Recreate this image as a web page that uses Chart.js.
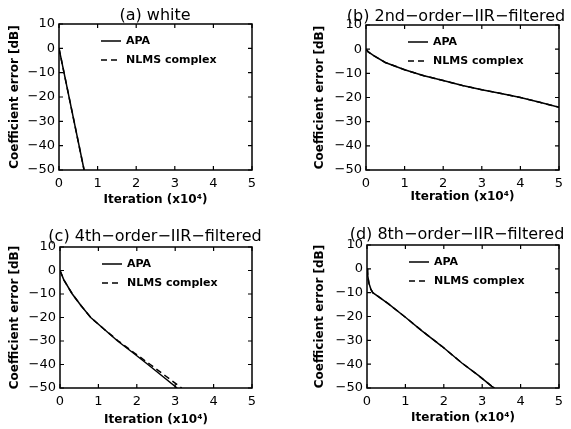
<!DOCTYPE html>
<html>
<head>
<meta charset="utf-8">
<script src="https://cdn.jsdelivr.net/npm/chart.js@4.4.0/dist/chart.umd.min.js"></script>
<style>
body { margin: 0; background: #fff; }
#wrap { position: relative; width: 571px; height: 429px; background: #fff; }
.panel { position: absolute; }
canvas { display: block; }
</style>
</head>
<body>
<div id="wrap">
  <div class="panel" style="left:0px;top:0px"><canvas id="pa" width="285" height="214"></canvas></div>
  <div class="panel" style="left:285px;top:0px"><canvas id="pb" width="286" height="214"></canvas></div>
  <div class="panel" style="left:0px;top:214px"><canvas id="pc" width="285" height="215"></canvas></div>
  <div class="panel" style="left:285px;top:214px"><canvas id="pd" width="286" height="215"></canvas></div>
</div>
<script>
// tick labels
var xTicks = [0, 1, 2, 3, 4, 5];
var yTicks = [10, 0, -10, -20, -30, -40, -50];

// (a) white
var iterA = [0, 0.65];
var apaA = [0, -50];
var nlmsIterA = [0, 0.65];
var nlmsA = [0, -50];

// (b) 2nd-order IIR
var iterB = [0, 0.05, 0.2, 0.5, 1, 1.5, 2, 2.5, 3, 3.5, 4, 4.5, 5];
var apaB = [0, -1, -2.7, -5.5, -8.5, -11, -13, -15, -16.8, -18.3, -20, -22, -24];
var nlmsIterB = [0, 0.05, 0.2, 0.5, 1, 1.5, 2, 2.5, 3, 3.5, 4, 4.5, 5];
var nlmsB = [0, -1, -2.7, -5.5, -8.5, -11, -13, -15, -16.8, -18.3, -20, -22, -24];

// (c) 4th-order IIR
var iterC = [0, 0.1, 0.32, 0.55, 0.8, 1.15, 1.5, 1.9, 2.29, 2.67, 3.05];
var apaC = [0, -4, -10, -15, -20, -25, -30, -35, -40, -45, -50];
var nlmsIterC = [0, 0.1, 0.32, 0.55, 0.8, 1.15, 1.52, 1.93, 2.35, 2.76, 3.17];
var nlmsC = [0, -4, -10, -15, -20, -25, -30, -35, -40, -45, -50];

// (d) 8th-order IIR
var iterD = [0, 0.02, 0.05, 0.1, 0.15, 0.26, 0.56, 1.0, 1.43, 1.95, 2.47, 2.9, 3.1, 3.25, 3.32];
var apaD = [0, -3, -6, -8.5, -10, -11.2, -14.7, -20.3, -26, -32.5, -39.5, -44.7, -47.3, -49.3, -50];
var nlmsIterD = [0, 0.02, 0.05, 0.1, 0.15, 0.26, 0.56, 1.0, 1.43, 1.95, 2.47, 2.9, 3.1, 3.25, 3.32];
var nlmsD = [0, -3, -6, -8.5, -10, -11.2, -14.7, -20.3, -26, -32.5, -39.5, -44.7, -47.3, -49.3, -50];

var FONT = "'DejaVu Sans', sans-serif";

function pts(xs, ys) {
    return xs.map(function (x, i) { return { x: x, y: ys[i] }; });
}

function fmt(v) {
    return String(v).replace('-', '\u2212');
}

var framePlugin = {
    id: 'frame',
    afterDraw: function (chart) {
        var a = chart.chartArea, ctx = chart.ctx;
        var xs = chart.scales.x, ys = chart.scales.y;
        ctx.save();
        ctx.strokeStyle = '#000';
        ctx.lineWidth = 1.5;
        ctx.strokeRect(a.left, a.top, a.right - a.left, a.bottom - a.top);
        ctx.lineWidth = 1.2;
        ctx.beginPath();
        xs.ticks.forEach(function (t) {
            var px = xs.getPixelForValue(t.value);
            ctx.moveTo(px, a.bottom); ctx.lineTo(px, a.bottom - 4);
            ctx.moveTo(px, a.top); ctx.lineTo(px, a.top + 4);
        });
        ys.ticks.forEach(function (t) {
            var py = ys.getPixelForValue(t.value);
            ctx.moveTo(a.left, py); ctx.lineTo(a.left + 4, py);
            ctx.moveTo(a.right, py); ctx.lineTo(a.right - 4, py);
        });
        ctx.stroke();
        ctx.restore();
    }
};

var legendPlugin = {
    id: 'inlegend',
    afterDraw: function (chart) {
        var a = chart.chartArea, ctx = chart.ctx;
        ctx.save();
        ctx.strokeStyle = '#000';
        ctx.fillStyle = '#000';
        ctx.lineWidth = 1.5;
        ctx.font = 'bold 11px ' + FONT;
        ctx.textBaseline = 'middle';
        chart.data.datasets.forEach(function (ds, i) {
            var y = a.top + 17 + i * 19;
            ctx.setLineDash(ds.borderDash || []);
            ctx.beginPath();
            ctx.moveTo(a.left + 42, y);
            ctx.lineTo(a.left + 62, y);
            ctx.stroke();
            ctx.setLineDash([]);
            ctx.fillText(ds.label, a.left + 67, y);
        });
        ctx.restore();
    }
};

// panel title, allowed to run wider than the plot box
var titlePlugin = {
    id: 'ptitle',
    afterDraw: function (chart, args, opts) {
        var ctx = chart.ctx;
        ctx.save();
        ctx.fillStyle = '#000';
        ctx.font = '16px ' + FONT;
        ctx.textAlign = 'center';
        ctx.textBaseline = 'middle';
        ctx.fillText(opts.text, opts.x, opts.y);
        ctx.restore();
    }
};

function makePanel(id, title, xs1, ys1, xs2, ys2, lay) {
    return new Chart(document.getElementById(id), {
        type: 'line',
        data: {
            datasets: [
                { label: 'APA', data: pts(xs1, ys1), borderColor: '#000', borderWidth: 1.5,
                  pointRadius: 0, tension: 0, fill: false },
                { label: 'NLMS complex', data: pts(xs2, ys2), borderColor: '#000', borderWidth: 1.5,
                  borderDash: [6, 4], pointRadius: 0, tension: 0, fill: false }
            ]
        },
        options: {
            responsive: false,
            animation: false,
            devicePixelRatio: 1,
            layout: { padding: { left: 0, right: lay.W - lay.right, top: lay.top, bottom: 0 } },
            plugins: {
                legend: { display: false },
                tooltip: { enabled: false },
                title: { display: false },
                ptitle: { text: title, x: lay.titleX, y: lay.titleC }
            },
            scales: {
                x: {
                    type: 'linear', min: 0, max: 5,
                    afterBuildTicks: function (s) { s.ticks = xTicks.map(function (v) { return { value: v }; }); },
                    afterFit: function (s) { s.height = lay.H - lay.bottom; },
                    grid: { display: false, drawTicks: false }, border: { display: false },
                    ticks: { color: '#000', font: { family: FONT, size: 13 }, padding: 6,
                             maxRotation: 0, autoSkip: false, callback: fmt },
                    title: { display: true, text: 'Iteration (x10\u2074)', color: '#000',
                             font: { family: FONT, size: 12, weight: 'bold', lineHeight: 1 },
                             padding: { top: 0, bottom: lay.H - lay.xTitleC - 6 } }
                },
                y: {
                    type: 'linear', min: -50, max: 10,
                    afterBuildTicks: function (s) { s.ticks = yTicks.map(function (v) { return { value: v }; }); },
                    afterFit: function (s) { s.width = lay.left; },
                    grid: { display: false, drawTicks: false }, border: { display: false },
                    ticks: { color: '#000', font: { family: FONT, size: 13 }, padding: 4,
                             autoSkip: false, callback: fmt },
                    title: { display: true, text: 'Coefficient error [dB]', color: '#000',
                             font: { family: FONT, size: 12, weight: 'bold', lineHeight: 1 },
                             padding: { top: lay.yTitleC - 6, bottom: 0 } }
                }
            }
        },
        plugins: [framePlugin, legendPlugin, titlePlugin]
    });
}

makePanel('pa', '(a) white', iterA, apaA, nlmsIterA, nlmsA,
    { W: 285, H: 214, left: 59, right: 252, top: 24, bottom: 170, titleX: 155, titleC: 16, yTitleC: 15, xTitleC: 200 });
makePanel('pb', '(b) 2nd\u2212order\u2212IIR\u2212filtered', iterB, apaB, nlmsIterB, nlmsB,
    { W: 286, H: 214, left: 81, right: 274, top: 25, bottom: 170, titleX: 171, titleC: 17, yTitleC: 35, xTitleC: 197 });
makePanel('pc', '(c) 4th\u2212order\u2212IIR\u2212filtered', iterC, apaC, nlmsIterC, nlmsC,
    { W: 285, H: 215, left: 60, right: 252, top: 33, bottom: 174, titleX: 155, titleC: 22.7, yTitleC: 15, xTitleC: 206 });
makePanel('pd', '(d) 8th\u2212order\u2212IIR\u2212filtered', iterD, apaD, nlmsIterD, nlmsD,
    { W: 286, H: 215, left: 82, right: 274, top: 31, bottom: 174, titleX: 172, titleC: 21, yTitleC: 35, xTitleC: 204.3 });
</script>
</body>
</html>
